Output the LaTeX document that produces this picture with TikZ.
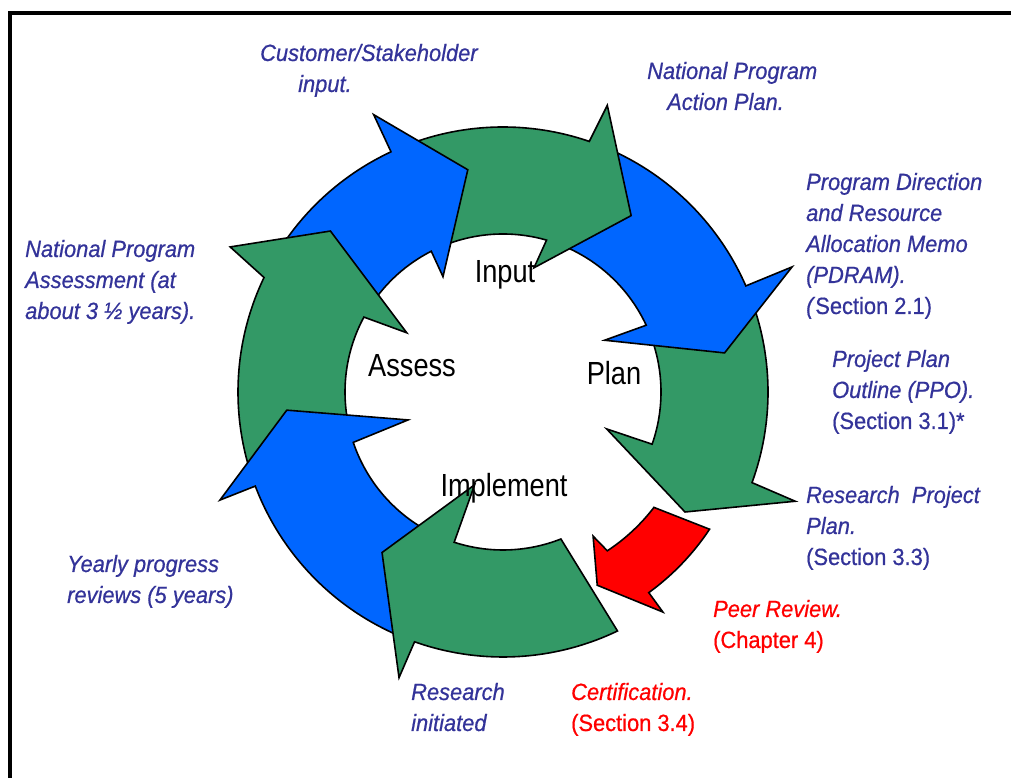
\documentclass[tikz,border=0pt]{standalone}
\usepackage{fontspec}
\setmainfont{Liberation Sans}
\newfontfamily\sidefont{Liberation Sans}[FakeStretch=0.93,FakeBold=0.6]
\newfontfamily\ringfont{Liberation Sans}[FakeStretch=0.85]
\definecolor{arrowgreen}{RGB}{51,153,102}
\definecolor{arrowblue}{RGB}{0,102,255}
\definecolor{labelblue}{RGB}{51,51,153}
\definecolor{labelred}{RGB}{255,0,0}
\begin{document}
\begin{tikzpicture}[x=1pt,y=1pt,
    ring/.style={draw=black,line width=1.6pt,line join=miter},
    sidelabel/.style={anchor=base west,inner sep=0pt,align=left,
      font=\sidefont\fontsize{23.5}{31}\selectfont\itshape},
    ringlabel/.style={anchor=base,inner sep=0pt,
      font=\ringfont\fontsize{32}{36}\selectfont}]
  \useasboundingbox (0,0) rectangle (1011,778);
  % Frame
  \draw[line width=4pt] (10,0) -- (10,765) -- (1011,765);

  \begin{scope}[shift={(503,386)}]
    % Plan arrow, right side
    \draw[ring,fill=arrowgreen] (20:265) arc[start angle=20,end angle=-20,radius=265]
      -- (-20.5:312) -- (-33.4:218) -- (-19.6:110) -- (-19.3:158)
      arc[start angle=-19.3,end angle=20,radius=158] -- cycle;
    % Upper right arrow
    \draw[ring,fill=arrowblue] (67:265) arc[start angle=67,end angle=23.6,radius=265]
      -- (23.4:315) -- (10:225) -- (27:114) -- (25:158)
      arc[start angle=25,end angle=67,radius=158] -- cycle;
    % Input arrow, top
    \draw[ring,fill=arrowgreen] (111:265) arc[start angle=111,end angle=71,radius=265]
      -- (70:305) -- (54:218) -- (76:128) -- (74:158)
      arc[start angle=74,end angle=111,radius=158] -- cycle;
    % Upper left arrow
    \draw[ring,fill=arrowblue] (147:265) arc[start angle=147,end angle=115,radius=265]
      -- (115:306) -- (99:225) -- (117.5:130) -- (117:158)
      arc[start angle=117,end angle=147,radius=158] -- cycle;
    % Assess arrow, left side
    \draw[ring,fill=arrowgreen] (197:265) arc[start angle=197,end angle=154.4,radius=265]
      -- (152:309) -- (137:236) -- (148.4:113) -- (151.7:158)
      arc[start angle=151.7,end angle=197,radius=158] -- cycle;
    % Lower left arrow
    \draw[ring,fill=arrowblue] (247:265) arc[start angle=247,end angle=200.8,radius=265]
      -- (200.9:303) -- (184.8:217) -- (196.4:99) -- (198.6:158)
      arc[start angle=198.6,end angle=247,radius=158] -- cycle;
    % Implement arrow, bottom
    \draw[ring,fill=arrowgreen] (295.6:265) arc[start angle=295.6,end angle=250.5,radius=265]
      -- (250:304) -- (233:201) -- (253:97) -- (252:158)
      arc[start angle=252,end angle=291.5,radius=158] -- cycle;
    % Peer review arrow
    \draw[ring,fill=labelred] (-33.6:248) arc[start angle=-33.6,end angle=-54,radius=248]
      -- (-54:272) -- (-64:215) -- (-58:170) -- (-56.7:190)
      arc[start angle=-56.7,end angle=-37.4,radius=190] -- cycle;
  \end{scope}

  % Words inside the ring
  \node[ringlabel] (input) at (505,495) {Input};
  \node[ringlabel] (assess) at (412,401) {Assess};
  \node[ringlabel] (plan) at (614,393) {Plan};
  \node[ringlabel] (implement) at (504,281) {Implement};

  % Side labels (placed by the baseline of their last line)
  \node[sidelabel,labelblue] (customer) at (260,686)
    {Customer/Stakeholder\\\hspace*{38pt}input.};
  \node[sidelabel,labelblue] (actionplan) at (647,668)
    {National Program\\\hspace*{20pt}Action Plan.};
  \node[sidelabel,labelblue] (pdram) at (806,464)
    {Program Direction\\and Resource\\Allocation Memo\\(PDRAM).\\(\textup{Section 2.1)}};
  \node[sidelabel,labelblue] (ppo) at (832,349)
    {Project Plan\\Outline (PPO).\\\textup{(Section 3.1)*}};
  \node[sidelabel,labelblue] (rpp) at (806,213)
    {Research~~Project\\Plan.\\\textup{(Section 3.3)}};
  \node[sidelabel,labelred] (peer) at (713,130)
    {Peer Review.\\\textup{(Chapter 4)}};
  \node[sidelabel,labelred] (cert) at (571,47)
    {Certification.\\\textup{(Section 3.4)}};
  \node[sidelabel,labelblue] (initiated) at (411,47)
    {Research\\initiated};
  \node[sidelabel,labelblue] (yearly) at (67,175)
    {Yearly progress\\reviews (5 years)};
  \node[sidelabel,labelblue] (assessment) at (25,459)
    {National Program\\Assessment (at\\about 3 ½ years).};
\end{tikzpicture}
\end{document}
